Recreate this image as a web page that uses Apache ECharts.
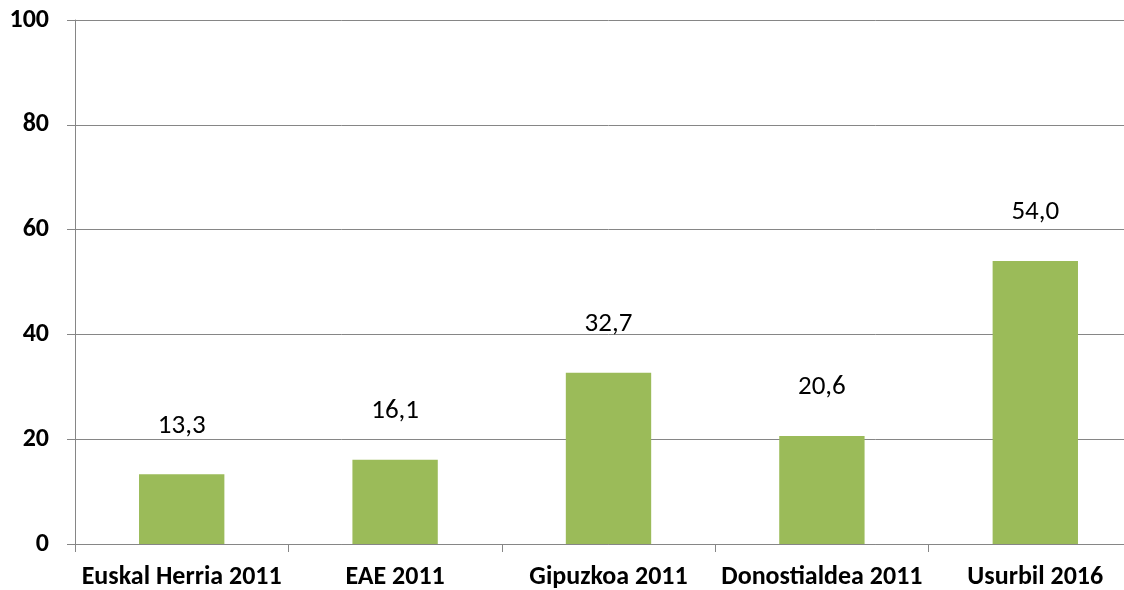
<!DOCTYPE html>
<html>
<head>
<meta charset="utf-8">
<script src="https://cdn.jsdelivr.net/npm/echarts@6/dist/echarts.min.js"></script>
<style>
    html, body { margin: 0; padding: 0; background: #fff; overflow: hidden; }
    /* jatorrizkoa eskuinean moztuta dago: grafikoa leihoa baino zabalagoa */
    #chart { width: 1142px; height: 590px; }
</style>
</head>
<body>
<div id="chart"></div>
<script>
    // datuak
    var categories = ['Euskal Herria 2011', 'EAE 2011', 'Gipuzkoa 2011', 'Donostialdea 2011', 'Usurbil 2016'];
    var values = [13.3, 16.1, 32.7, 20.6, 54.0];
    var yTicks = [0, 20, 40, 60, 80, 100];

    var fontFam = 'Carlito, Calibri, "Liberation Sans", "DejaVu Sans", sans-serif';
    var chart = echarts.init(document.getElementById('chart'));

    var option = {
        animation: false,
        grid: { left: 75, right: 0, top: 20, bottom: 46, containLabel: false },
        xAxis: {
            type: 'category',
            data: categories,
            axisLine: { lineStyle: { color: '#868686', width: 1 } },
            axisTick: { show: true, interval: 0, length: 8, lineStyle: { color: '#868686' } },
            axisLabel: { interval: 0, color: '#000', fontWeight: 'bold', fontSize: 26, fontFamily: fontFam, margin: 20 }
        },
        yAxis: {
            type: 'value',
            min: yTicks[0],
            max: yTicks[yTicks.length - 1],
            interval: 20,
            axisLine: { show: true, lineStyle: { color: '#868686', width: 1 } },
            axisTick: { show: true, length: 8, lineStyle: { color: '#868686' } },
            splitLine: { lineStyle: { color: '#868686', width: 1 } },
            axisLabel: { color: '#000', fontWeight: 'bold', fontSize: 26, fontFamily: fontFam, margin: 26 }
        },
        series: [{
            type: 'bar',
            data: values,
            barWidth: '40%',
            itemStyle: { color: '#9BBB59' },
            label: {
                show: true,
                position: 'top',
                distance: 35,
                color: '#000',
                fontSize: 27,
                fontFamily: fontFam,
                formatter: function (p) { return p.value.toFixed(1).replace('.', ','); }
            }
        }]
    };
    chart.setOption(option);
</script>
</body>
</html>
